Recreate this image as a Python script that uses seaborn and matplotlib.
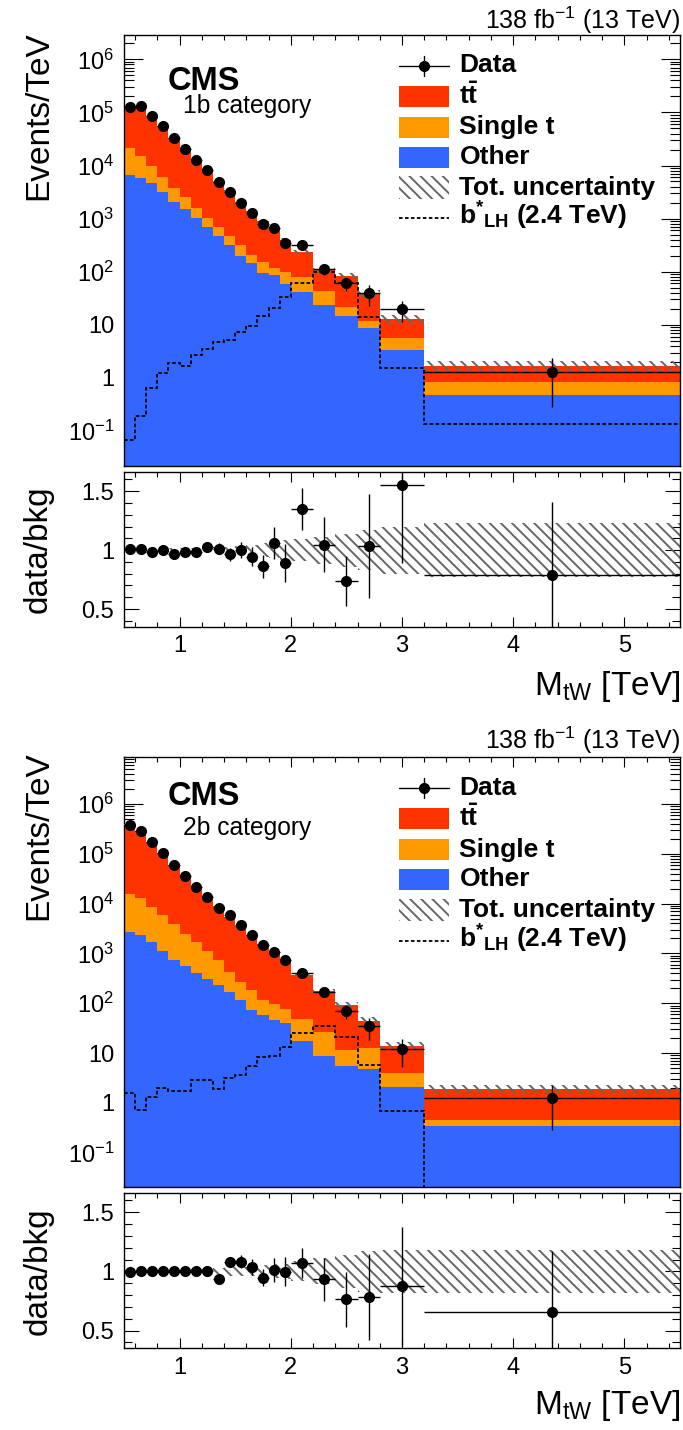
import numpy as np
import pandas as pd
import matplotlib
matplotlib.use("Agg")
import matplotlib.pyplot as plt
import seaborn as sns
from matplotlib.lines import Line2D
from matplotlib.patches import Rectangle
from matplotlib.ticker import (LogLocator, NullFormatter, FuncFormatter,
                               MultipleLocator, FixedLocator)

# ---------------------------------------------------------------- binning
bin_edges = [0.5, 0.6, 0.7, 0.8, 0.9, 1.0, 1.1, 1.2, 1.3, 1.4, 1.5, 1.6, 1.7,
             1.8, 1.9, 2.0, 2.2, 2.4, 2.6, 2.8, 3.2, 5.5]

# ---------------------------------------------------------------- 1b category (events / TeV)
data_1b = [125000, 132000, 85500, 55500, 32500, 20200, 12700, 8200, 4950, 3210,
           2000, 1290, 791, 656, 351, 318, 111, 60, 40, 20, 1.31]
data_err_1b = [1100, 1150, 940, 740, 570, 450, 356, 287, 223, 180,
               141, 114, 89, 85, 63, 42, 25, 17.5, 17, 8.5, 1.03]
ttbar_1b = [103000, 116000, 76900, 49300, 29800, 18100, 11340, 6990, 4190, 2850,
            1680, 1160, 765, 500, 293, 158, 63, 59.5, 26.8, 7.3, 0.82]
single_t_1b = [14400, 9400, 5200, 2800, 1620, 1000, 550, 324, 237, 158,
               118, 60, 54, 32, 41, 36, 19.4, 7.1, 3.0, 2.25, 0.36]
other_1b = [6600, 5700, 4600, 3200, 2080, 1500, 1010, 686, 470, 318,
            200, 146, 96, 86, 59, 42, 23.6, 14.8, 8.8, 3.35, 0.48]
rel_unc_1b = [0.01, 0.01, 0.01, 0.012, 0.014, 0.016, 0.018, 0.02, 0.022, 0.026,
              0.035, 0.045, 0.06, 0.07, 0.085, 0.09, 0.115, 0.14, 0.17, 0.2, 0.23]
bstar_1b = [0.068, 0.195, 0.64, 1.22, 1.93, 1.67, 2.7, 3.5, 4.8, 5.2,
            7.2, 9.3, 14.5, 20.4, 33, 60, 100, 60, 13.8, 1.52, 0.135]

# ---------------------------------------------------------------- 2b category (events / TeV)
data_2b = [385000, 282000, 176000, 104000, 60800, 36600, 22000, 13400, 8200, 5780,
           3760, 2370, 1450, 1060, 724, 403, 166, 69.8, 34.4, 12.3, 1.28]
data_err_2b = [1900, 1700, 1330, 1020, 780, 605, 470, 366, 286, 240,
               194, 154, 110, 105, 87, 48, 32, 21, 16, 7, 1.0]
ttbar_2b = [370600, 268800, 167300, 98100, 56960, 34010, 20340, 12280, 8075, 4933,
            3210, 2106, 1415, 955, 650, 328, 151, 80, 31.5, 10.1, 1.49]
single_t_2b = [12700, 10860, 7040, 4780, 3100, 1930, 1260, 810, 493, 247,
               154, 112, 58, 48, 35, 30.2, 18.4, 5.9, 7.8, 1.8, 0.11]
other_2b = [2700, 2340, 1660, 1120, 740, 560, 400, 310, 232, 170,
            116, 72, 57, 47, 40, 17.3, 8.6, 5.5, 4.8, 2.1, 0.34]
rel_unc_2b = [0.01, 0.01, 0.01, 0.01, 0.012, 0.014, 0.016, 0.018, 0.025, 0.035,
              0.04, 0.04, 0.05, 0.06, 0.065, 0.085, 0.11, 0.14, 0.175, 0.185, 0.185]
bstar_2b = [1.58, 0.71, 1.32, 1.95, 1.75, 1.75, 2.85, 2.9, 1.9, 3.2,
            3.7, 5.4, 8.5, 8.9, 13, 25.3, 35, 21, 5.7, 0.69, 0]

# ---------------------------------------------------------------- labels
process_order = ["ttbar", "single_t", "other"]   # top to bottom of the stack
process_colors = {"ttbar": "#ff3300", "single_t": "#ff9900", "other": "#3366ff"}
legend_labels = ["Data", r"$\mathbf{t\bar{t}}$", "Single t", "Other",
                 "Tot. uncertainty", r"$\mathbf{b^{*}{}_{LH}}$ (2.4 TeV)"]
category_labels = ["1b category", "2b category"]
lumi_label = r"138 fb$^{-1}$ (13 TeV)"
x_label = r"M$_{\mathrm{tW}}$ [TeV]"
y_label_main = "Events/TeV"
y_label_ratio = "data/bkg"
decades = [-1, 0, 1, 2, 3, 4, 5, 6]
ratio_ticks = [0.5, 1.0, 1.5]

HATCH_COLOR = "#666666"
HATCH = "\\\\\\"

# ---------------------------------------------------------------- style
sns.set_theme(style="ticks")
plt.rcParams["font.family"] = ["Liberation Sans", "DejaVu Sans"]
plt.rcParams["mathtext.fontset"] = "custom"
plt.rcParams["mathtext.rm"] = "Liberation Sans"
plt.rcParams["mathtext.it"] = "Liberation Sans:italic"
plt.rcParams["mathtext.bf"] = "Liberation Sans:bold"
plt.rcParams["hatch.linewidth"] = 1.4
plt.rcParams["axes.linewidth"] = 1.0
for key in ("text.color", "axes.labelcolor", "xtick.color", "ytick.color",
            "axes.edgecolor"):
    plt.rcParams[key] = "black"

W, H = 683, 1430
fig = plt.figure(figsize=(W / 100, H / 100), dpi=100)


def fx(x):
    return x / W


def fy(y):
    return 1 - y / H


def axes_px(left, top, right, bottom):
    return fig.add_axes([fx(left), fy(bottom), (right - left) / W, (bottom - top) / H])


def log_label(v, pos):
    e = int(round(np.log10(v)))
    if e == 0:
        return "1"
    if e == 1:
        return "10"
    return r"$10^{%d}$" % e


def style_axes(ax, main):
    ax.set_xlim(0.5, 5.5)
    ax.xaxis.set_major_locator(MultipleLocator(1))
    ax.xaxis.set_minor_locator(MultipleLocator(0.2))
    ax.tick_params(which="both", direction="in", top=True, right=True,
                   width=0.8, color="black", labelcolor="black", labelsize=17)
    ax.tick_params(axis="x", which="major", length=7.2, pad=6)
    ax.tick_params(axis="x", which="minor", length=3.6)
    if main:
        ax.tick_params(axis="y", which="major", length=14, pad=7)
        ax.tick_params(axis="y", which="minor", length=7)
        ax.tick_params(axis="x", labelbottom=False)
    else:
        ax.tick_params(axis="y", which="major", length=10.5, pad=7)
        ax.tick_params(axis="y", which="minor", length=5.5)
        ax.xaxis.set_major_formatter(FuncFormatter(lambda v, p: "%g" % v))
    for s in ax.spines.values():
        s.set_color("black")
        s.set_linewidth(1.0)
    ax.set_xlabel("")
    ax.set_ylabel("")


def draw_category(ax, rax, data, data_err, ttbar, single_t, other, rel_unc, bstar, ylim):
    edges = np.array(bin_edges)
    centers = 0.5 * (edges[1:] + edges[:-1])
    half = 0.5 * np.diff(edges)

    frames = [pd.DataFrame({"mass": centers, "rate": vals, "process": name})
              for name, vals in (("ttbar", ttbar), ("single_t", single_t), ("other", other))]
    df = pd.concat(frames, ignore_index=True)

    ax.set_yscale("log")
    sns.histplot(data=df, x="mass", weights="rate", hue="process",
                 hue_order=process_order, palette=process_colors, bins=list(bin_edges),
                 multiple="stack", element="bars", stat="count", alpha=1,
                 linewidth=0, antialiased=False, legend=False, ax=ax)

    bkg = np.array(ttbar) + np.array(single_t) + np.array(other)
    unc = np.array(rel_unc)
    ax.stairs(bkg * (1 + unc), edges, baseline=bkg * (1 - unc), fill=True,
              facecolor="none", edgecolor=HATCH_COLOR, hatch=HATCH, linewidth=0, zorder=3)
    ax.stairs(bstar, edges, baseline=None, color="black", linewidth=1.3,
              linestyle=(0, (2, 1.3)), zorder=4)
    ax.errorbar(centers, data, yerr=data_err, xerr=half, fmt="o", color="black",
                ms=7, elinewidth=1, capsize=0, zorder=5)

    ax.set_ylim(*ylim)
    ax.yaxis.set_major_locator(FixedLocator([10.0 ** e for e in decades]))
    ax.yaxis.set_minor_locator(LogLocator(base=10, subs=np.arange(2, 10), numticks=200))
    ax.yaxis.set_major_formatter(FuncFormatter(log_label))
    ax.yaxis.set_minor_formatter(NullFormatter())
    style_axes(ax, main=True)

    ratio = np.array(data) / bkg
    ratio_err = np.array(data_err) / bkg
    rax.stairs(1 + unc, edges, baseline=1 - unc, fill=True, facecolor="none",
               edgecolor=HATCH_COLOR, hatch=HATCH, linewidth=0, zorder=2)
    rax.errorbar(centers, ratio, yerr=ratio_err, xerr=half, fmt="o", color="black",
                 ms=7, elinewidth=1, capsize=0, zorder=5)
    rax.set_ylim(0.35, 1.66)
    rax.yaxis.set_major_locator(FixedLocator(ratio_ticks))
    rax.yaxis.set_minor_locator(MultipleLocator(0.1))
    rax.yaxis.set_major_formatter(FuncFormatter(lambda v, p: "%g" % v))
    style_axes(rax, main=False)


def draw_annotations(dy, category, lumi_base, cms_base, cat_base, ylabel_top,
                     ratio_mid, xlabel_base):
    fig.text(fx(680), fy(lumi_base), lumi_label, ha="right", va="baseline", fontsize=18)
    fig.text(fx(168), fy(cms_base), "CMS", ha="left", va="baseline",
             fontsize=23.5, fontweight="bold")
    fig.text(fx(182.5), fy(cat_base), category, ha="left", va="baseline", fontsize=17.7)
    fig.text(fx(47), fy(ylabel_top), y_label_main, rotation=90, rotation_mode="anchor",
             ha="right", va="baseline", fontsize=24)
    fig.text(fx(47), fy(ratio_mid), y_label_ratio, rotation=90, rotation_mode="anchor",
             ha="center", va="baseline", fontsize=24)
    fig.text(fx(680), fy(xlabel_base), x_label, ha="right", va="baseline", fontsize=24)

    # legend
    rows = [r + dy for r in (65.5, 96.5, 127, 157, 187.5, 218)]
    x0, x1, xt = 398.5, 448.6, 459.5
    xc = 0.5 * (x0 + x1)
    tf = fig.transFigure
    fig.add_artist(Line2D([fx(x0), fx(x1)], [fy(rows[0])] * 2, color="black", lw=1, transform=tf))
    fig.add_artist(Line2D([fx(xc)] * 2, [fy(rows[0] - 10), fy(rows[0] + 10)], color="black",
                          lw=1, transform=tf))
    fig.add_artist(Line2D([fx(xc)], [fy(rows[0])], marker="o", ms=7, color="black", transform=tf))
    for row, name in zip(rows[1:4], ("ttbar", "single_t", "other")):
        fig.add_artist(Rectangle((fx(x0), fy(row + 10.5)), (x1 - x0) / W, 21 / H,
                                 facecolor=process_colors[name], edgecolor="none",
                                 transform=tf))
    fig.add_artist(Rectangle((fx(x0), fy(rows[4] + 11)), (x1 - x0) / W, 22 / H,
                             facecolor="none", edgecolor=HATCH_COLOR, hatch=HATCH,
                             linewidth=0, transform=tf))
    fig.add_artist(Line2D([fx(x0), fx(x1)], [fy(rows[5])] * 2, color="black", lw=1.3,
                          linestyle=(0, (2, 1.3)), transform=tf))
    for row, lab in zip(rows, legend_labels):
        fig.text(fx(xt), fy(row + 7), lab, ha="left", va="baseline", fontsize=19,
                 fontweight="bold")


# ---------------------------------------------------------------- panels
ax1 = axes_px(124, 35, 680, 466)
rax1 = axes_px(124, 472.3, 680, 626.7)
ax2 = axes_px(124, 756.7, 680, 1186.7)
rax2 = axes_px(124, 1193.3, 680, 1348.3)

draw_category(ax1, rax1, data_1b, data_err_1b, ttbar_1b, single_t_1b, other_1b,
              rel_unc_1b, bstar_1b, (0.0219, 2.87e6))
draw_category(ax2, rax2, data_2b, data_err_2b, ttbar_2b, single_t_2b, other_2b,
              rel_unc_2b, bstar_2b, (0.0208, 8.9e6))

draw_annotations(0, category_labels[0], 29.3, 90, 113.3, 31.7, 549.5, 695)
draw_annotations(722.5, category_labels[1], 748.5, 805, 835, 751.7, 1270.8, 1414)

fig.savefig("out.png", dpi=100)
